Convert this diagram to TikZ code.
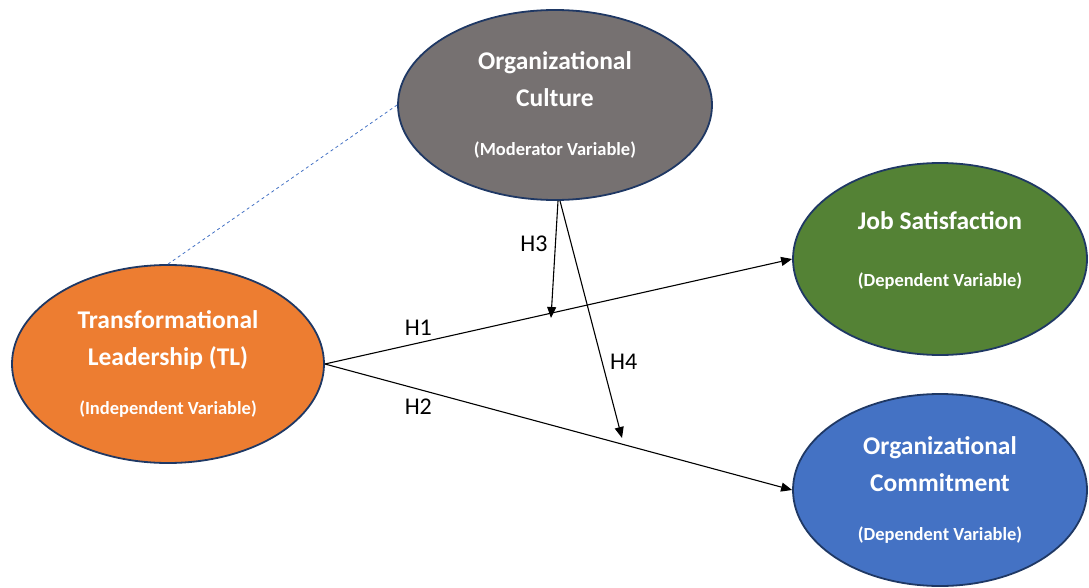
\documentclass[tikz,border=0pt]{standalone}
\usepackage{fontspec}
\setmainfont{Carlito}
\usetikzlibrary{arrows.meta,shapes.geometric}

\definecolor{cultgray}{HTML}{767171}
\definecolor{tlorange}{HTML}{ED7D31}
\definecolor{jsgreen}{HTML}{548235}
\definecolor{ocblue}{HTML}{4472C4}
\definecolor{rimnavy}{HTML}{1F3864}

\newcommand{\subtxt}[1]{{\fontsize{18.5}{20}\selectfont #1}}

\tikzset{
  var/.style={ellipse,draw=rimnavy,line width=1.8pt,inner sep=0pt,
    text=white,align=center,font=\bfseries\fontsize{25.5}{37}\selectfont},
  hyp/.style={font=\fontsize{24}{26}\selectfont}
}

\begin{document}
\begin{tikzpicture}
    [x=1pt,y=-1pt,>={Triangle[length=11pt,width=9pt]},line width=1.1pt]
    \useasboundingbox (0,0) rectangle (1089,588);
    %Nodes
    \node[var,fill=cultgray,minimum width=314pt,minimum height=190pt] (Cult) at (555,105)
        {Organizational\\Culture\\[12pt]\subtxt{(Moderator Variable)}};
    \node[var,fill=tlorange,minimum width=312pt,minimum height=198pt] (TL) at (168,364)
        {Transformational\\Leadership (TL)\\[12pt]\subtxt{(Independent Variable)}};
    \node[var,fill=jsgreen,minimum width=294pt,minimum height=192pt] (JS) at (940,259)
        {Job Satisfaction\\[20pt]\subtxt{(Dependent Variable)}\\[-18pt]};
    \node[var,fill=ocblue,minimum width=294pt,minimum height=192pt] (OCm) at (940,490)
        {Organizational\\Commitment\\[12pt]\subtxt{(Dependent Variable)}};

    %Moderation points
    \coordinate (m1) at (551,318);
    \coordinate (m2) at (622,438);

    %Edges
    \draw[->] (TL.east) -- (JS.west) node[hyp,pos=0.2,above=4pt] {H1};
    \draw[->] (TL.east) -- (OCm.west) node[hyp,pos=0.2,below=6pt] {H2};
    \draw[->] ([xshift=3pt]Cult.south) -- (m1) node[hyp,pos=0.37,left=4pt] {H3};
    \draw[->] ([xshift=5pt]Cult.south) -- (m2) node[hyp,pos=0.68,right=4pt] {H4};
    \draw[ocblue,dashed,line width=0.8pt] (TL.north) -- (Cult.west);

\end{tikzpicture}
\end{document}
